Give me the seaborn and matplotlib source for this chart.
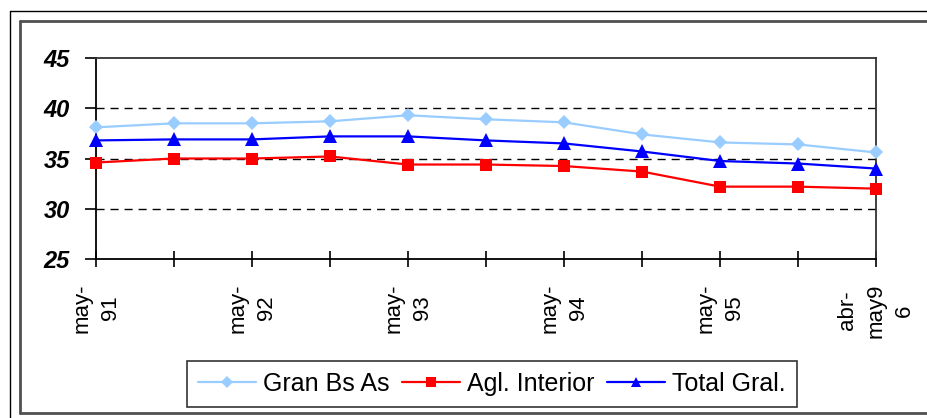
import matplotlib
matplotlib.use("Agg")
import matplotlib.pyplot as plt
from matplotlib.lines import Line2D
import seaborn as sns
import pandas as pd

# ---- data ----
tick_labels = ["may-\n91", "", "may-\n92", "", "may-\n93", "", "may-\n94", "",
               "may-\n95", "", "abr-\nmay9\n6"]
gran_bs_as = [38.1, 38.5, 38.5, 38.7, 39.3, 38.9, 38.6, 37.4, 36.6, 36.4, 35.6]
agl_interior = [34.6, 35.0, 35.0, 35.2, 34.4, 34.4, 34.25, 33.7, 32.2, 32.2, 32.0]
total_gral = [36.8, 36.9, 36.9, 37.2, 37.2, 36.8, 36.5, 35.7, 34.75, 34.5, 34.0]
series_names = ["Gran Bs As", "Agl. Interior", "Total Gral."]
y_ticks = [25, 30, 35, 40, 45]

sns.set_theme(style="white")
plt.rcParams['font.family'] = ['Liberation Sans', 'DejaVu Sans']
plt.rcParams['text.color'] = 'black'
plt.rcParams['xtick.color'] = 'black'
plt.rcParams['ytick.color'] = 'black'

W, H = 928, 418
fig = plt.figure(figsize=(W / 100, H / 100), dpi=100)

# outer chart frames
fig.add_artist(Line2D([10 / W, 10 / W], [0, 1 - 11 / H], transform=fig.transFigure, color="black", lw=1.0))
fig.add_artist(Line2D([10 / W, 1], [1 - 11 / H, 1 - 11 / H], transform=fig.transFigure, color="black", lw=1.0))
fig.add_artist(Line2D([20 / W, 20 / W], [1 - 413 / H, 1 - 21 / H], transform=fig.transFigure, color="#505050", lw=2.0))
fig.add_artist(Line2D([20 / W, 1], [1 - 21 / H, 1 - 21 / H], transform=fig.transFigure, color="#505050", lw=2.0))
fig.add_artist(Line2D([20 / W, 1], [1 - 413 / H, 1 - 413 / H], transform=fig.transFigure, color="#505050", lw=2.0))

left, right, top, bottom = 96, 876, 58, 259
ax = fig.add_axes([left / W, 1 - bottom / H, (right - left) / W, (bottom - top) / H])

x = list(range(len(tick_labels)))
df = pd.DataFrame({
    "x": x * 3,
    "y": gran_bs_as + agl_interior + total_gral,
    "serie": [series_names[0]] * len(x) + [series_names[1]] * len(x) + [series_names[2]] * len(x),
})
palette = {series_names[0]: "#99CCFF", series_names[1]: "#FF0000", series_names[2]: "#0000FF"}
markers = {series_names[0]: "D", series_names[1]: "s", series_names[2]: "^"}
sizes = {series_names[0]: 7.5, series_names[1]: 8.5, series_names[2]: 9.5}
leg_sizes = {series_names[0]: 6, series_names[1]: 7, series_names[2]: 7.5}

for name in series_names:
    sub = df[df["serie"] == name]
    sns.lineplot(data=sub, x="x", y="y", ax=ax, color=palette[name], marker=markers[name],
                 markersize=sizes[name], markeredgewidth=0, lw=1.6, label=name, zorder=3,
                 clip_on=False)

ax.set_xlim(0, 10)
ax.set_ylim(25, 45)
ax.set_xticks(x)
ax.set_xticklabels(tick_labels, rotation=90, fontsize=16, linespacing=1.45,
                   ha="center", va="top", multialignment="center", color="black")
ax.set_yticks(y_ticks)
ax.set_yticklabels([str(v) for v in y_ticks], fontsize=17, fontweight="bold", fontstyle="italic",
                   color="black")
ax.set_xlabel("")
ax.set_ylabel("")
ax.tick_params(axis="x", direction="inout", length=11, width=1.2, color="black", pad=12, bottom=True)
ax.tick_params(axis="y", direction="out", length=8, width=1.2, color="black", pad=11, left=True)

for yv in [30, 35, 40]:
    ax.axhline(yv, color="black", lw=1.0, dashes=(5.8, 4.3), zorder=1)

for s in ["left", "bottom"]:
    ax.spines[s].set_color("black")
    ax.spines[s].set_linewidth(1.3)
for s in ["top", "right"]:
    ax.spines[s].set_color("#333333")
    ax.spines[s].set_linewidth(1.3)
ax.set_facecolor("white")

leg = ax.legend(loc="center", bbox_to_anchor=(492 / W, 1 - 384 / H), bbox_transform=fig.transFigure,
                ncol=3, frameon=True, fancybox=False, fontsize=18, handlelength=2.3,
                handletextpad=0.3, columnspacing=0.5, borderpad=0.45, borderaxespad=0)
leg.get_frame().set_edgecolor("black")
leg.get_frame().set_linewidth(1.2)
for t in leg.get_texts():
    t.set_color("black")
for h, name in zip(leg.legend_handles, series_names):
    h.set_markersize(leg_sizes[name])

fig.savefig("out.png", dpi=100)
